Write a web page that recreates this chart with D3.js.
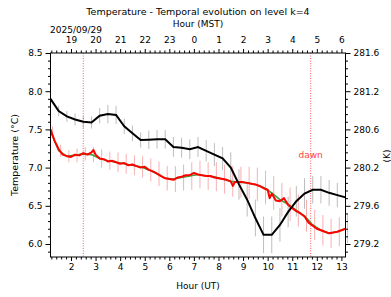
<!DOCTYPE html>
<html>
<head>
<meta charset="utf-8">
<script src="https://cdn.jsdelivr.net/npm/d3@7"></script>
<style>
  body { margin: 0; background: #fff; }
  svg text { font-family: "DejaVu Sans", sans-serif; }
</style>
</head>
<body>
<div id="chart"></div>
<script>
// model temperature (black) every 20 min, UT hours
const modelTimes = [1.1667, 1.5, 1.8333, 2.1667, 2.5, 2.8333, 3.1667, 3.5, 3.8333, 4.1667, 4.5, 4.8333,
    5.1667, 5.5, 5.8333, 6.1667, 6.5, 6.8333, 7.1667, 7.5, 7.8333, 8.1667, 8.5, 8.8333,
    9.1667, 9.5, 9.8333, 10.1667, 10.5, 10.8333, 11.1667, 11.5, 11.8333, 12.1667, 12.5, 12.8333, 13.1667];
const modelTemp = [7.90, 7.74, 7.67, 7.63, 7.60, 7.59, 7.68, 7.70, 7.69, 7.54, 7.45, 7.36,
    7.365, 7.37, 7.37, 7.27, 7.26, 7.24, 7.27, 7.22, 7.17, 7.12, 7.00, 6.78,
    6.58, 6.34, 6.12, 6.12, 6.25, 6.42, 6.56, 6.66, 6.71, 6.71, 6.67, 6.64, 6.61];
const modelErr = [0.05, 0.07, 0.07, 0.08, 0.08, 0.08, 0.10, 0.12, 0.12, 0.10, 0.10, 0.10,
    0.12, 0.12, 0.12, 0.13, 0.13, 0.13, 0.13, 0.14, 0.15, 0.15, 0.20, 0.20,
    0.22, 0.24, 0.24, 0.24, 0.22, 0.20, 0.20, 0.20, 0.18, 0.18, 0.17, 0.16, 0.16];

// observations (red) every 10 min
const obsTimes = [1.1667, 1.3333, 1.5, 1.6667, 1.8333, 2.0, 2.1667, 2.3333, 2.5, 2.6667, 2.8333, 2.9167, 3.0,
    3.1667, 3.3333, 3.5, 3.6667, 3.8333, 4.0, 4.1667, 4.3333, 4.5, 4.6667, 4.8333, 5.0,
    5.1667, 5.3333, 5.5, 5.6667, 5.8333, 6.0, 6.1667, 6.3333, 6.5, 6.6667, 6.8333, 7.0,
    7.1667, 7.3333, 7.5, 7.6667, 7.8333, 8.0, 8.1667, 8.3333, 8.5, 8.5833, 8.6667, 8.8333, 9.0,
    9.1667, 9.3333, 9.5, 9.6667, 9.8333, 10.0, 10.0833, 10.1667, 10.3333, 10.5, 10.6667, 10.8333, 11.0,
    11.1667, 11.3333, 11.5, 11.6667, 11.8333, 12.0, 12.1667, 12.3333, 12.5, 12.6667, 12.8333, 13.0, 13.1667];
const obsTemp = [7.50, 7.35, 7.24, 7.17, 7.15, 7.14, 7.17, 7.16, 7.19, 7.17, 7.20, 7.23, 7.17,
    7.12, 7.11, 7.08, 7.09, 7.07, 7.05, 7.06, 7.03, 7.04, 7.02, 7.00, 7.01,
    6.97, 6.95, 6.92, 6.89, 6.86, 6.85, 6.84, 6.87, 6.88, 6.90, 6.90, 6.93,
    6.91, 6.90, 6.89, 6.89, 6.87, 6.86, 6.85, 6.84, 6.82, 6.76, 6.81, 6.81, 6.81,
    6.80, 6.79, 6.78, 6.76, 6.73, 6.71, 6.60, 6.66, 6.57, 6.56, 6.60, 6.51, 6.47,
    6.43, 6.40, 6.36, 6.28, 6.24, 6.20, 6.18, 6.16, 6.14, 6.15, 6.16, 6.18, 6.20];

// smoothed observations (green) and obs error bars, every 20 min
const smoothTemp = [7.48, 7.22, 7.15, 7.16, 7.18, 7.17, 7.12, 7.09, 7.07, 7.05, 7.03, 7.01,
    6.97, 6.92, 6.86, 6.85, 6.87, 6.89, 6.91, 6.89, 6.88, 6.85, 6.82, 6.81,
    6.80, 6.78, 6.74, 6.67, 6.58, 6.52, 6.44, 6.37, 6.25, 6.18, 6.14, 6.16, 6.20];
const obsErr = [0.06, 0.08, 0.08, 0.09, 0.09, 0.10, 0.12, 0.12, 0.13, 0.13, 0.13, 0.14,
    0.15, 0.16, 0.16, 0.17, 0.17, 0.18, 0.18, 0.18, 0.19, 0.19, 0.20, 0.20,
    0.21, 0.22, 0.22, 0.22, 0.22, 0.22, 0.21, 0.21, 0.20, 0.20, 0.19, 0.19, 0.19];

const markerTimes = [2.5, 11.75];
const xTicks = [2, 3, 4, 5, 6, 7, 8, 9, 10, 11, 12, 13];
const yTicks = [6.0, 6.5, 7.0, 7.5, 8.0, 8.5];
const kelvinLabels = ["279.2", "279.6", "280.2", "280.6", "281.2", "281.6"];

const W = 391, H = 297;
const svg = d3.select("#chart").append("svg")
    .attr("width", W).attr("height", H);

const x = d3.scaleLinear().domain([1.1667, 13.1667]).range([50.5, 345.5]);
const y = d3.scaleLinear().domain([5.83, 8.5]).range([257, 53]);

const minorX = d3.range(1.2, 13.17, 0.2).filter(v => Math.abs(v - Math.round(v)) > 0.01);
const minorY = d3.range(5.9, 8.5, 0.1).filter(v => Math.abs(v * 2 - Math.round(v * 2)) > 0.01);

// error bars
svg.append("g").selectAll("line")
    .data(modelTimes.map((t, i) => [t, modelTemp[i], modelErr[i]]))
    .join("line")
    .attr("x1", d => x(d[0])).attr("x2", d => x(d[0]))
    .attr("y1", d => y(d[1] - d[2])).attr("y2", d => y(d[1] + d[2]))
    .attr("stroke", "#bdbdbd").attr("stroke-width", 1);

svg.append("g").selectAll("line")
    .data(modelTimes.map((t, i) => [t + 0.08, smoothTemp[i], obsErr[i]]))
    .join("line")
    .attr("x1", d => x(d[0])).attr("x2", d => x(d[0]))
    .attr("y1", d => y(d[1] - d[2])).attr("y2", d => y(d[1] + d[2]))
    .attr("stroke", "#f7b0b0").attr("stroke-width", 1);

// dotted markers
svg.append("g").selectAll("line")
    .data(markerTimes)
    .join("line")
    .attr("x1", d => x(d)).attr("x2", d => x(d))
    .attr("y1", 53).attr("y2", 257)
    .attr("stroke", "#ff6060").attr("stroke-width", 1)
    .attr("stroke-dasharray", "1,1.5");

svg.append("text")
    .attr("x", x(11.75)).attr("y", 158)
    .attr("text-anchor", "middle")
    .attr("fill", "#ff4040")
    .style("font-size", "9px")
    .text("dawn");

const line = d3.line().x(d => x(d[0])).y(d => y(d[1]));

svg.append("path")
    .datum(modelTimes.map((t, i) => [t, smoothTemp[i]]))
    .attr("d", line).attr("fill", "none")
    .attr("stroke", "#3aa53a").attr("stroke-width", 1.6);

svg.append("path")
    .datum(obsTimes.map((t, i) => [t, obsTemp[i]]))
    .attr("d", line).attr("fill", "none")
    .attr("stroke", "#ff0000").attr("stroke-width", 2)
    .attr("stroke-linejoin", "round");

svg.append("path")
    .datum(modelTimes.map((t, i) => [t, modelTemp[i]]))
    .attr("d", line).attr("fill", "none")
    .attr("stroke", "#000").attr("stroke-width", 2);

// frame
svg.append("rect")
    .attr("x", 50.5).attr("y", 53).attr("width", 295).attr("height", 204)
    .attr("fill", "none").attr("stroke", "#000").attr("stroke-width", 1);

// axes
function styleAxis(g) {
    g.select(".domain").remove();
    g.selectAll("text").style("font-size", "9px").attr("fill", "#000");
}

svg.append("g").attr("transform", "translate(0,257)")
    .call(d3.axisBottom(x).tickValues(xTicks).tickFormat(d3.format("d")).tickSize(4).tickPadding(3))
    .call(styleAxis);
svg.append("g").attr("transform", "translate(0,257)")
    .call(d3.axisBottom(x).tickValues(minorX).tickFormat("").tickSize(2.5))
    .call(g => g.select(".domain").remove());

svg.append("g").attr("transform", "translate(0,53)")
    .call(d3.axisTop(x).tickValues(xTicks).tickFormat(d => (d - 7 + 24) % 24).tickSize(4).tickPadding(6))
    .call(styleAxis);
svg.append("g").attr("transform", "translate(0,53)")
    .call(d3.axisTop(x).tickValues(minorX).tickFormat("").tickSize(2.5))
    .call(g => g.select(".domain").remove());

svg.append("g").attr("transform", "translate(50.5,0)")
    .call(d3.axisLeft(y).tickValues(yTicks).tickFormat(d3.format(".1f")).tickSize(5).tickPadding(3))
    .call(styleAxis);
svg.append("g").attr("transform", "translate(50.5,0)")
    .call(d3.axisLeft(y).tickValues(minorY).tickFormat("").tickSize(2.5))
    .call(g => g.select(".domain").remove());

svg.append("g").attr("transform", "translate(345.5,0)")
    .call(d3.axisRight(y).tickValues(yTicks).tickFormat((d, i) => kelvinLabels[i]).tickSize(5).tickPadding(3))
    .call(styleAxis);
svg.append("g").attr("transform", "translate(345.5,0)")
    .call(d3.axisRight(y).tickValues(minorY).tickFormat("").tickSize(2.5))
    .call(g => g.select(".domain").remove());

// labels
svg.append("text").attr("x", 198).attr("y", 15).attr("text-anchor", "middle")
    .style("font-size", "9.5px").text("Temperature - Temporal evolution on level k=4");
svg.append("text").attr("x", 198).attr("y", 27).attr("text-anchor", "middle")
    .style("font-size", "9px").text("Hour (MST)");
svg.append("text").attr("x", 76).attr("y", 33).attr("text-anchor", "middle")
    .style("font-size", "9px").text("2025/09/29");
svg.append("text").attr("x", 198).attr("y", 289).attr("text-anchor", "middle")
    .style("font-size", "9px").text("Hour (UT)");
svg.append("text").attr("transform", "translate(18,155) rotate(-90)").attr("text-anchor", "middle")
    .style("font-size", "9.5px").text("Temperature (\u00b0C)");
svg.append("text").attr("transform", "translate(389.5,156) rotate(-90)").attr("text-anchor", "middle")
    .style("font-size", "9px").text("(K)");
</script>
</body>
</html>
